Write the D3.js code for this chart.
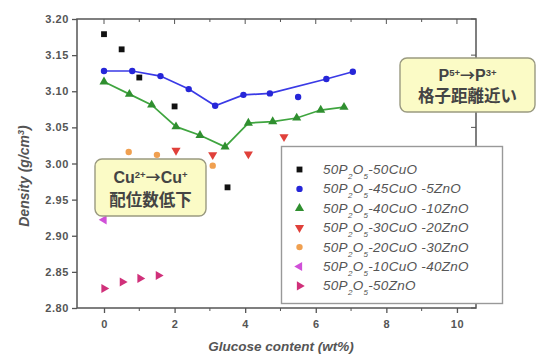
<!DOCTYPE html>
<html><head><meta charset="utf-8">
<script src="https://cdn.jsdelivr.net/npm/d3@7"></script>
<style>body{margin:0;background:#fff}svg{display:block}</style>
</head><body><svg id="c" width="539" height="358"></svg>
<script>
// ---- data ----
const xTicks = [0, 2, 4, 6, 8, 10];
const yTicks = [2.80, 2.85, 2.90, 2.95, 3.00, 3.05, 3.10, 3.15, 3.20];

const blackX = [0, 0.5, 1.0, 2.0, 3.5];
const blackY = [3.179, 3.158, 3.119, 3.079, 2.967];

const blueX = [0, 0.8, 1.6, 2.4, 3.15, 3.95, 4.7, 5.5, 6.3, 7.05];
const blueY = [3.128, 3.128, 3.121, 3.103, 3.080, 3.095, 3.097, 3.092, 3.117, 3.127];
const blueLineIdx = [0, 1, 2, 3, 4, 5, 6, 8, 9];

const greenX = [0, 0.72, 1.35, 2.04, 2.72, 3.43, 4.09, 4.78, 5.46, 6.14, 6.8];
const greenY = [3.113, 3.096, 3.081, 3.051, 3.039, 3.023, 3.056, 3.058, 3.063, 3.074, 3.078];

const redX = [2.04, 3.08, 4.09, 5.1];
const redY = [3.018, 3.012, 3.013, 3.037];

const orangeX = [0.7, 1.5, 3.08];
const orangeY = [3.016, 3.012, 2.997];

const violetX = [0];
const violetY = [2.922];

const pinkX = [0, 0.52, 1.02, 1.54];
const pinkY = [2.827, 2.836, 2.841, 2.845];

const legendNames = [
  ["50", "P", "2", "O", "5", "-50CuO"],
  ["50", "P", "2", "O", "5", "-45CuO -5ZnO"],
  ["50", "P", "2", "O", "5", "-40CuO -10ZnO"],
  ["50", "P", "2", "O", "5", "-30CuO -20ZnO"],
  ["50", "P", "2", "O", "5", "-20CuO -30ZnO"],
  ["50", "P", "2", "O", "5", "-10CuO -40ZnO"],
  ["50", "P", "2", "O", "5", "-50ZnO"]
];

// ---- setup ----
const svg = d3.select("#c");
const L = 77, R = 476, T = 19, B = 308;
const x = d3.scaleLinear().domain([-0.765, 10.54]).range([L, R]);
const y = d3.scaleLinear().domain([2.80, 3.20]).range([B, T]);
const font = "'Liberation Sans', Arial, sans-serif";
const cjk = "'Noto Sans CJK JP', sans-serif";

const series = [
  {xs: blackX, ys: blackY, color: "#111", sym: d3.symbolSquare, rot: 0, size: 34},
  {xs: blueX, ys: blueY, color: "#2626d8", sym: d3.symbolCircle, rot: 0, size: 32, line: blueLineIdx, lineColor: "#3a3ae6"},
  {xs: greenX, ys: greenY, color: "#2f8f2f", sym: d3.symbolTriangle, rot: 0, size: 36, line: greenX.map((d,i)=>i), lineColor: "#3fa53f"},
  {xs: redX, ys: redY, color: "#e0403a", sym: d3.symbolTriangle, rot: 180, size: 36},
  {xs: orangeX, ys: orangeY, color: "#f0a050", sym: d3.symbolCircle, rot: 0, size: 32},
  {xs: violetX, ys: violetY, color: "#d050d8", sym: d3.symbolTriangle, rot: -90, size: 36},
  {xs: pinkX, ys: pinkY, color: "#d0307a", sym: d3.symbolTriangle, rot: 90, size: 36}
];

// ---- axes ----
const axG = svg.append("g").attr("stroke", "#555").attr("fill", "none");
axG.append("rect").attr("x", L).attr("y", T).attr("width", R - L).attr("height", B - T).attr("stroke-width", 1.5);

const xAxis = d3.axisBottom(x).tickValues(xTicks).tickSize(5).tickFormat(d3.format("d"));
const gx = svg.append("g").attr("transform", `translate(0,${B})`).call(xAxis);
const yAxis = d3.axisLeft(y).tickValues(yTicks).tickSize(5).tickPadding(3).tickFormat(d3.format(".2f"));
const gy = svg.append("g").attr("transform", `translate(${L},0)`).call(yAxis);
[gx, gy].forEach(g => {
  g.select(".domain").remove();
  g.selectAll("line").attr("stroke", "#555").attr("stroke-width", 1.3);
  g.selectAll("text").attr("fill", "#555").attr("font-family", font).attr("font-size", 11)
    .attr("font-weight", "bold").attr("letter-spacing", 0.6);
});
gx.selectAll("text").attr("dy", "1.05em");
// minor x ticks
const minorX = [1, 3, 5, 7, 9];
svg.append("g").selectAll("line").data(minorX).join("line")
  .attr("x1", d => x(d)).attr("x2", d => x(d)).attr("y1", B).attr("y2", B + 3)
  .attr("stroke", "#555");
// top ticks (inward)
svg.append("g").selectAll("line").data(xTicks.concat(minorX)).join("line")
  .attr("x1", d => x(d)).attr("x2", d => x(d)).attr("y1", T).attr("y2", d => T + (d % 2 === 0 ? 5 : 3))
  .attr("stroke", "#555");
// right ticks (inward)
svg.append("g").selectAll("line").data(yTicks).join("line")
  .attr("x1", R).attr("x2", R - 5).attr("y1", d => y(d)).attr("y2", d => y(d))
  .attr("stroke", "#555");

// axis titles
svg.append("text").attr("x", 281).attr("y", 351).attr("text-anchor", "middle")
  .attr("font-family", font).attr("font-size", 13.5).attr("font-style", "italic").attr("font-weight", "bold")
  .attr("fill", "#555").text("Glucose content (wt%)");
const yl = svg.append("text").attr("transform", `translate(29,176) rotate(-90)`)
  .attr("text-anchor", "middle").attr("font-family", font).attr("font-size", 14)
  .attr("font-style", "italic").attr("font-weight", "bold").attr("fill", "#555");
yl.append("tspan").text("Density (g/cm");
yl.append("tspan").attr("baseline-shift", "super").attr("font-size", 9).text("3");
yl.append("tspan").text(")");

// ---- data marks ----
const sym = (s) => d3.symbol().type(s.sym).size(s.size)();
series.forEach(s => {
  if (s.line) {
    const ln = d3.line().x(i => x(s.xs[i])).y(i => y(s.ys[i]));
    svg.append("path").attr("d", ln(s.line)).attr("fill", "none")
      .attr("stroke", s.lineColor).attr("stroke-width", 1.7);
  }
  svg.append("g").selectAll("path").data(s.xs.map((d, i) => [d, s.ys[i]])).join("path")
    .attr("d", sym(s)).attr("fill", s.color)
    .attr("transform", d => `translate(${x(d[0])},${y(d[1])}) rotate(${s.rot})`);
});

// ---- annotation boxes ----
function note(x0, y0, w, h, l1, l2) {
  const g = svg.append("g");
  g.append("rect").attr("x", x0).attr("y", y0).attr("width", w).attr("height", h)
    .attr("rx", 7).attr("fill", "#fbfbc6").attr("stroke", "#9a9a80").attr("stroke-width", 1.4);
  const t1 = g.append("text").attr("x", x0 + w / 2).attr("y", y0 + h * 0.42).attr("text-anchor", "middle")
    .attr("font-family", font).attr("font-size", 16).attr("font-weight", "bold").attr("fill", "#444");
  l1.forEach(p => {
    const ts = t1.append("tspan").text(p[0]);
    if (p[1] === 1) ts.attr("baseline-shift", "super").attr("font-size", 9.5);
    if (p[1] === 2) ts.attr("font-family", cjk).attr("font-size", 15);
  });
  g.append("text").attr("x", x0 + w / 2).attr("y", y0 + h * 0.82).attr("text-anchor", "middle")
    .attr("font-family", cjk).attr("font-size", 16.5).attr("font-weight", "bold")
    .attr("fill", "#444").text(l2);
}
note(400, 58, 135, 54, [["P"], ["5+", 1], ["→", 2], ["P"], ["3+", 1]], "格子距離近い");
note(95, 159, 111, 57, [["Cu"], ["2+", 1], ["→", 2], ["Cu"], ["+", 1]], "配位数低下");

// ---- legend ----
const lg = svg.append("g");
lg.append("rect").attr("x", 281.5).attr("y", 146.5).attr("width", 221).attr("height", 157)
  .attr("fill", "#fff").attr("stroke", "#999").attr("stroke-width", 1.4);
series.forEach((s, i) => {
  const yy = 169.5 + i * 19.4;
  lg.append("path").attr("d", sym(s)).attr("fill", s.color)
    .attr("transform", `translate(299.5,${yy}) rotate(${s.rot})`);
  const t = lg.append("text").attr("x", 323).attr("y", yy + 4.5)
    .attr("font-family", font).attr("font-size", 13.5).attr("font-style", "italic").attr("fill", "#555")
    .attr("letter-spacing", 0.3);
  const n = legendNames[i];
  t.append("tspan").text(n[0] + n[1]);
  t.append("tspan").attr("baseline-shift", "sub").attr("font-size", 8).text(n[2]);
  t.append("tspan").text(n[3]);
  t.append("tspan").attr("baseline-shift", "sub").attr("font-size", 8).text(n[4]);
  t.append("tspan").text(n[5]);
});
</script></body></html>
